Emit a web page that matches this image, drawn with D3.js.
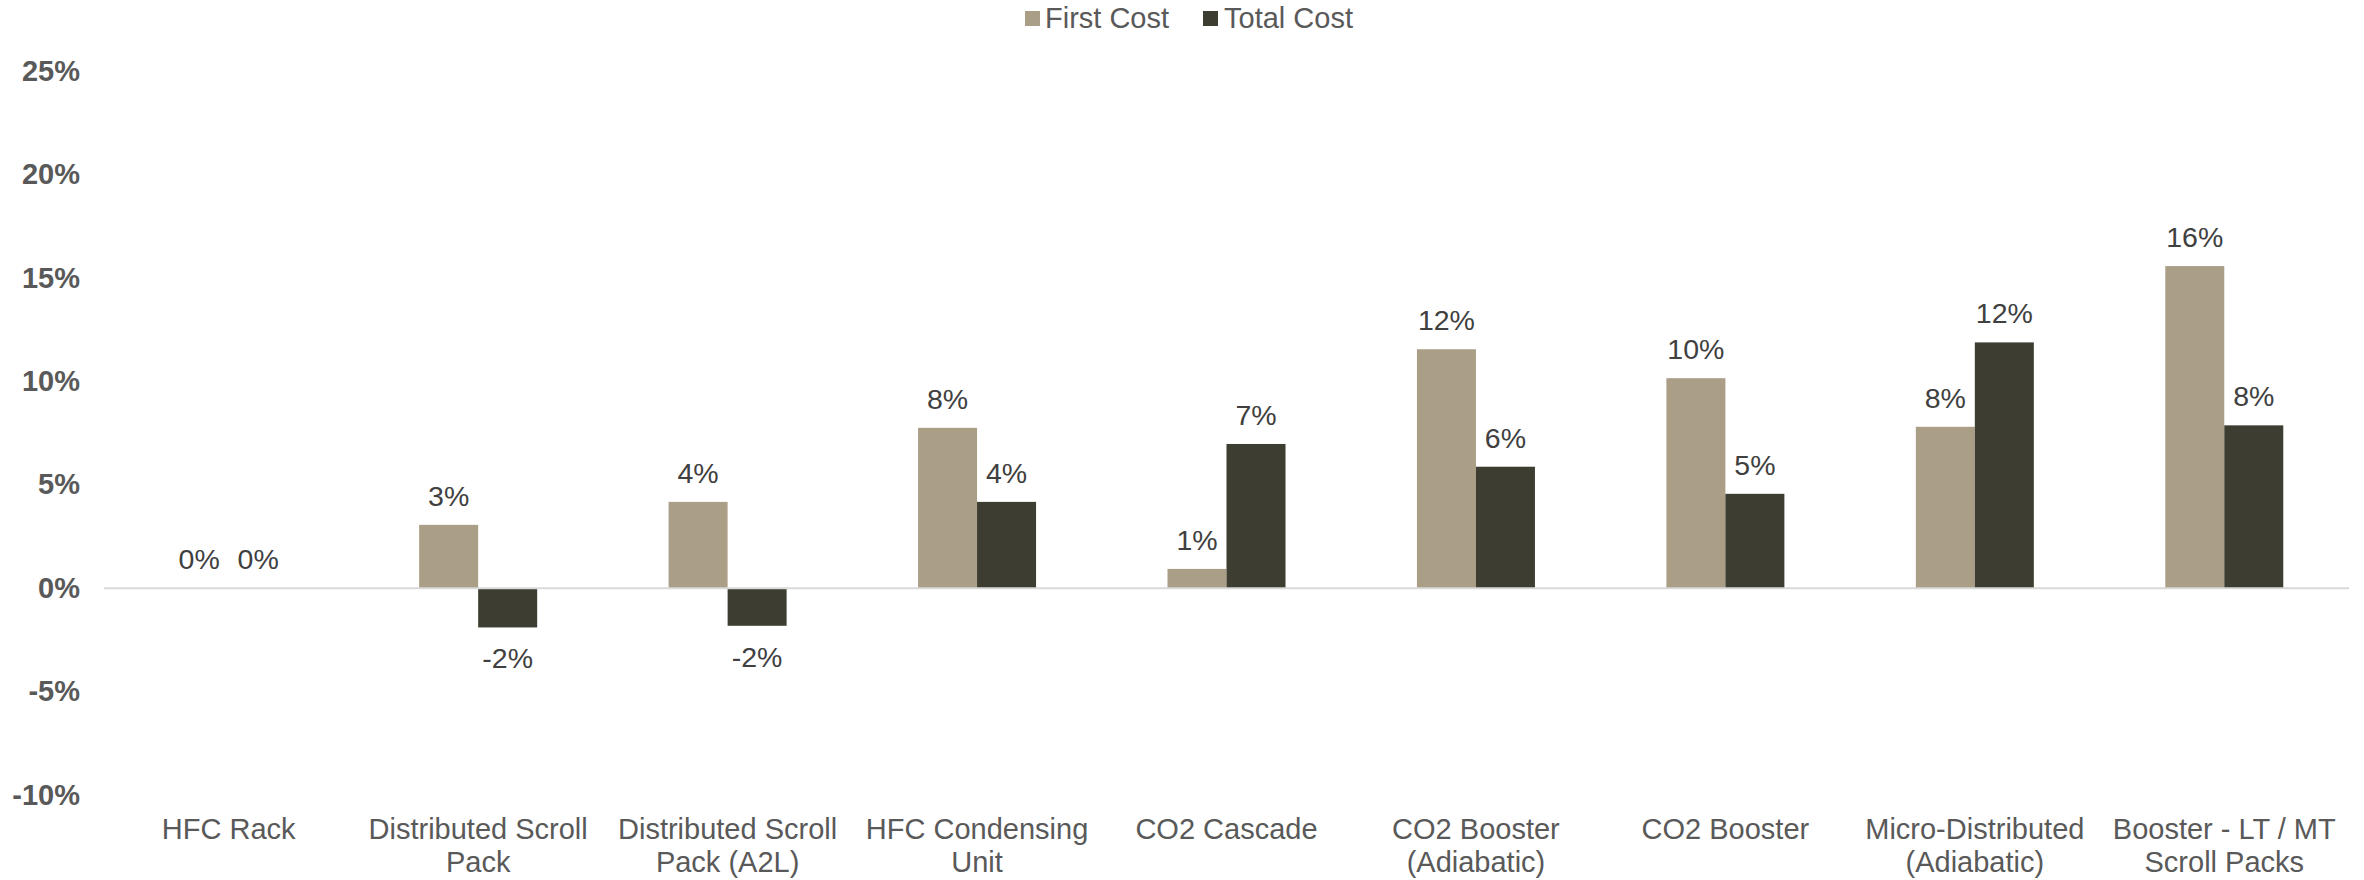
<!DOCTYPE html>
<html>
<head>
<meta charset="utf-8">
<script src="https://cdn.jsdelivr.net/npm/d3@7"></script>
<style>
  html, body { margin: 0; padding: 0; background: #ffffff; }
  svg { display: block; font-family: "Liberation Sans", Arial, sans-serif; }
</style>
</head>
<body>
<svg id="chart" width="2364" height="880"></svg>
<script>
const categories = [
  "HFC Rack",
  "Distributed Scroll Pack",
  "Distributed Scroll Pack (A2L)",
  "HFC Condensing Unit",
  "CO2 Cascade",
  "CO2 Booster (Adiabatic)",
  "CO2 Booster",
  "Micro-Distributed (Adiabatic)",
  "Booster - LT / MT Scroll Packs"
];
const categoryLines = [
  ["HFC Rack"],
  ["Distributed Scroll", "Pack"],
  ["Distributed Scroll", "Pack (A2L)"],
  ["HFC Condensing", "Unit"],
  ["CO2 Cascade"],
  ["CO2 Booster", "(Adiabatic)"],
  ["CO2 Booster"],
  ["Micro-Distributed", "(Adiabatic)"],
  ["Booster - LT / MT", "Scroll Packs"]
];
const seriesNames = ["First Cost", "Total Cost"];
const firstCost = [0, 3.06, 4.17, 7.75, 0.93, 11.55, 10.15, 7.8, 15.57];
const totalCost = [0, -1.9, -1.82, 4.17, 6.97, 5.87, 4.56, 11.88, 7.87];
const yTicks = [-10, -5, 0, 5, 10, 15, 20, 25];

const colors = { "First Cost": "#ab9e87", "Total Cost": "#3d3d31" };

const svg = d3.select("#chart");
const plotLeft = 104, plotRight = 2349, plotTop = 71, plotBottom = 795;

const x = d3.scaleBand().domain(categories).range([plotLeft, plotRight]).paddingInner(0).paddingOuter(0);
const bw = x.bandwidth();
const barW = 59;
const xs = d3.scaleBand().domain(seriesNames).range([bw / 2 - barW, bw / 2 + barW]).padding(0);
const y = d3.scaleLinear().domain([-10, 25]).range([plotBottom, plotTop]);

const rows = categories.map((c, i) => ({
  cat: c,
  vals: [
    { s: "First Cost", v: firstCost[i] },
    { s: "Total Cost", v: totalCost[i] }
  ]
}));

// y axis labels
const yAxis = d3.axisLeft(y).tickValues(yTicks).tickFormat(d => d + "%").tickSize(0).tickPadding(0);
const yg = svg.append("g").attr("transform", `translate(80,0)`).call(yAxis);
yg.select(".domain").remove();
yg.selectAll("text")
  .attr("font-family", "'Liberation Sans', Arial, sans-serif")
  .attr("font-size", 29)
  .attr("font-weight", "bold")
  .attr("fill", "#595959");

// bars
const groups = svg.append("g").selectAll("g").data(rows).join("g")
  .attr("transform", d => `translate(${x(d.cat)},0)`);

groups.selectAll("rect").data(d => d.vals).join("rect")
  .attr("x", d => xs(d.s))
  .attr("width", xs.bandwidth())
  .attr("y", d => y(Math.max(0, d.v)))
  .attr("height", d => Math.abs(y(d.v) - y(0)))
  .attr("fill", d => colors[d.s]);

// zero line
svg.append("line")
  .attr("x1", plotLeft).attr("x2", plotRight)
  .attr("y1", y(0)).attr("y2", y(0))
  .attr("stroke", "#d9d9d9").attr("stroke-width", 2);

// data labels
groups.selectAll("text.dl").data(d => d.vals).join("text")
  .attr("class", "dl")
  .attr("x", d => xs(d.s) + xs.bandwidth() / 2)
  .attr("y", d => d.v >= 0 ? y(d.v) - 29 : y(d.v) + 31)
  .attr("dy", "0.35em")
  .attr("text-anchor", "middle")
  .attr("font-size", 28.5)
  .attr("fill", "#404040")
  .text(d => Math.round(d.v) + "%");

// category labels
const xg = svg.append("g");
categories.forEach((c, i) => {
  const t = xg.append("text")
    .attr("x", x(c) + bw / 2)
    .attr("y", 829)
    .attr("text-anchor", "middle")
    .attr("font-size", 29)
    .attr("fill", "#595959");
  categoryLines[i].forEach((line, j) => {
    t.append("tspan").attr("x", x(c) + bw / 2).attr("y", 829 + j * 33).attr("dy", "0.35em").text(line);
  });
});

// legend
const legend = svg.append("g");
const legendItems = [
  { s: "First Cost", sx: 1025, tx: 1045 },
  { s: "Total Cost", sx: 1203, tx: 1224 }
];
legendItems.forEach(it => {
  legend.append("rect").attr("x", it.sx).attr("y", 11).attr("width", 15).attr("height", 15).attr("fill", colors[it.s]);
  legend.append("text").attr("x", it.tx).attr("y", 18).attr("dy", "0.35em")
    .attr("font-size", 29).attr("fill", "#595959").text(it.s);
});
</script>
</body>
</html>
